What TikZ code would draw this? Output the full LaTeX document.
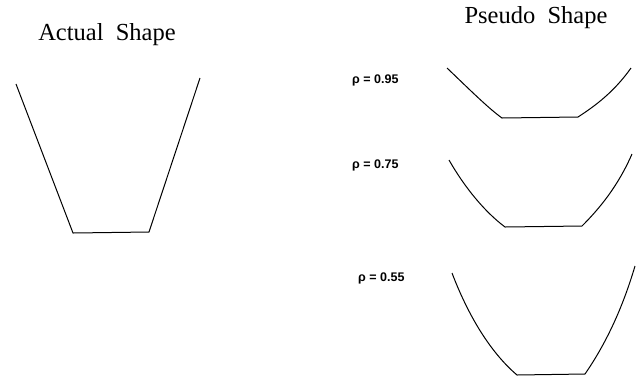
\documentclass[tikz,border=0pt]{standalone}
\usepackage{fontspec}
\setmainfont{Liberation Serif}
\newfontfamily\labelfont{Liberation Sans}
\usepackage{tikz}
\usetikzlibrary{positioning}

\begin{document}
\begin{tikzpicture}[x=1pt, y=-1pt,
    heading/.style={font=\fontsize{24.5}{28}\selectfont, inner sep=0pt},
    rholab/.style={font=\labelfont\bfseries\fontsize{12.5}{15}\selectfont, anchor=west, inner sep=0pt},
    outline/.style={line width=1pt, line join=round}]
    \useasboundingbox (0,0) rectangle (643,376);

    % titles
    \node[heading] (actual) at (107,35) {Actual\ \ Shape};
    \node[heading] (pseudo) at (536,18) {Pseudo\ \ Shape};

    % actual shape
    \draw[outline] (16,84) -- (73,233) -- (149,232) -- (200,78);

    % pseudo shapes
    \node[rholab] (r95) at (352,80) {ρ = 0.95};
    \draw[outline] (447,68) .. controls (468,88) and (488,108) .. (502,118)
        -- (578,117) .. controls (595,106) and (614,92) .. (631,68);

    \node[rholab] (r75) at (352,165) {ρ = 0.75};
    \draw[outline] (449,160) .. controls (465,188) and (485,212) .. (505,227)
        -- (582,226) .. controls (600,208) and (618,186) .. (632,154);

    \node[rholab] (r55) at (358,278) {ρ = 0.55};
    \draw[outline] (452,273) .. controls (468,315) and (490,352) .. (517,375)
        -- (585,374) .. controls (605,345) and (622,310) .. (635,266);
\end{tikzpicture}
\end{document}
